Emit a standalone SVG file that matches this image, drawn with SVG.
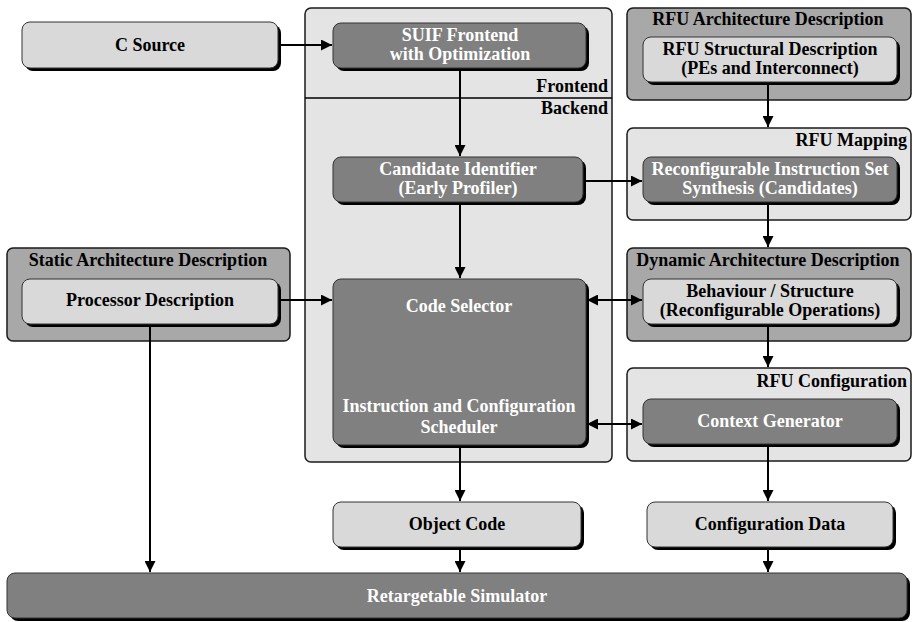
<svg xmlns="http://www.w3.org/2000/svg" width="913" height="622" viewBox="0 0 913 622">
  <defs>
    <style>
      text { font-family: "Liberation Serif", "DejaVu Serif", serif; font-weight: bold; font-size: 18px; text-anchor: middle; }
      .w { fill: #ffffff; }
      .k { fill: #000000; }
      .r { text-anchor: end; }
      .sh { fill: #000000; }
      .light { fill: #d9d9d9; stroke: #333333; stroke-width: 1; }
      .dark { fill: #808080; stroke: #333333; stroke-width: 1; }
      .pane { fill: #e4e4e4; stroke: #1a1a1a; stroke-width: 1.5; }
      .grp { fill: #a8a8a8; stroke: #1a1a1a; stroke-width: 1.5; }
      .edge { stroke: #000000; stroke-width: 2; fill: none; }
    </style>
    <marker id="ahb" viewBox="0 0 10 10" refX="10" refY="5" markerWidth="11" markerHeight="11" orient="auto-start-reverse" markerUnits="userSpaceOnUse">
      <path d="M0,0 L10,5 L0,10 z" fill="#000"/>
    </marker>
  </defs>

  <!-- containers -->
  <g id="frontend-backend">
    <rect class="pane" x="305" y="8" width="307" height="454" rx="6"/>
    <line x1="305" y1="98" x2="612" y2="98" stroke="#000" stroke-width="1.5"/>
    <text class="k r" x="608" y="92">Frontend</text>
    <text class="k r" x="608" y="114">Backend</text>
  </g>

  <g id="rfu-arch">
    <rect class="grp" x="627" y="8" width="284" height="92" rx="6"/>
    <text class="k" x="768" y="25">RFU Architecture Description</text>
  </g>
  <g id="rfu-mapping">
    <rect class="pane" x="627" y="128" width="284" height="92" rx="6"/>
    <text class="k r" x="907" y="146">RFU Mapping</text>
  </g>
  <g id="dyn-arch">
    <rect class="grp" x="627" y="248" width="284" height="93" rx="6"/>
    <text class="k" x="768" y="266">Dynamic Architecture Description</text>
  </g>
  <g id="rfu-config">
    <rect class="pane" x="627" y="368" width="284" height="93" rx="6"/>
    <text class="k r" x="907" y="387">RFU Configuration</text>
  </g>
  <g id="static-arch">
    <rect class="grp" x="7" y="248" width="283" height="93" rx="6"/>
    <text class="k" x="148" y="266">Static Architecture Description</text>
  </g>

  <!-- connectors -->
  <g id="connectors">
    <line class="edge" x1="278" y1="45" x2="332" y2="45" marker-end="url(#ahb)"/>
    <line class="edge" x1="460" y1="68" x2="460" y2="156" marker-end="url(#ahb)"/>
    <line class="edge" x1="460" y1="202" x2="460" y2="278" marker-end="url(#ahb)"/>
    <line class="edge" x1="583" y1="181" x2="642" y2="181" marker-end="url(#ahb)"/>
    <line class="edge" x1="768" y1="82" x2="768" y2="127" marker-end="url(#ahb)"/>
    <line class="edge" x1="768" y1="202" x2="768" y2="247" marker-end="url(#ahb)"/>
    <line class="edge" x1="768" y1="324" x2="768" y2="367" marker-end="url(#ahb)"/>
    <line class="edge" x1="278" y1="300" x2="332" y2="300" marker-end="url(#ahb)"/>
    <line class="edge" x1="587" y1="300" x2="642" y2="300" marker-start="url(#ahb)" marker-end="url(#ahb)"/>
    <line class="edge" x1="587" y1="424" x2="642" y2="424" marker-start="url(#ahb)" marker-end="url(#ahb)"/>
    <line class="edge" x1="460" y1="445" x2="460" y2="501" marker-end="url(#ahb)"/>
    <line class="edge" x1="768" y1="444" x2="768" y2="501" marker-end="url(#ahb)"/>
    <line class="edge" x1="150" y1="324" x2="150" y2="572" marker-end="url(#ahb)"/>
    <line class="edge" x1="460" y1="547" x2="460" y2="572" marker-end="url(#ahb)"/>
    <line class="edge" x1="768" y1="547" x2="768" y2="572" marker-end="url(#ahb)"/>
  </g>

  <!-- nodes -->
  <g id="c-source">
    <rect class="sh" x="25" y="25" width="256" height="46" rx="8"/>
    <rect class="light" x="22" y="22" width="256" height="46" rx="8"/>
    <text class="k" x="150" y="51">C Source</text>
  </g>
  <g id="suif">
    <rect class="sh" x="336" y="26" width="253" height="45" rx="8"/>
    <rect class="dark" x="333" y="23" width="253" height="45" rx="8"/>
    <text class="w" x="460" y="41">SUIF Frontend</text>
    <text class="w" x="460" y="60">with Optimization</text>
  </g>
  <g id="candidate-identifier">
    <rect class="sh" x="336" y="160" width="250" height="45" rx="8"/>
    <rect class="dark" x="333" y="157" width="250" height="45" rx="8"/>
    <text class="w" x="458" y="175">Candidate Identifier</text>
    <text class="w" x="458" y="194">(Early Profiler)</text>
  </g>
  <g id="code-selector">
    <rect class="sh" x="336" y="282" width="253" height="166" rx="8"/>
    <rect class="dark" x="333" y="279" width="253" height="166" rx="8"/>
    <text class="w" x="459" y="312">Code Selector</text>
    <text class="w" x="459" y="412">Instruction and Configuration</text>
    <text class="w" x="459" y="433">Scheduler</text>
  </g>
  <g id="object-code">
    <rect class="sh" x="336" y="505" width="248" height="45" rx="8"/>
    <rect class="light" x="333" y="502" width="248" height="45" rx="8"/>
    <text class="k" x="457" y="530">Object Code</text>
  </g>
  <g id="rfu-structural">
    <rect class="sh" x="646" y="40" width="254" height="45" rx="8"/>
    <rect class="light" x="643" y="37" width="254" height="45" rx="8"/>
    <text class="k" x="770" y="55">RFU Structural Description</text>
    <text class="k" x="770" y="74">(PEs and Interconnect)</text>
  </g>
  <g id="ris-synthesis">
    <rect class="sh" x="646" y="160" width="254" height="45" rx="8"/>
    <rect class="dark" x="643" y="157" width="254" height="45" rx="8"/>
    <text class="w" x="770" y="175">Reconfigurable Instruction Set</text>
    <text class="w" x="770" y="194">Synthesis (Candidates)</text>
  </g>
  <g id="behaviour">
    <rect class="sh" x="646" y="282" width="254" height="45" rx="8"/>
    <rect class="light" x="643" y="279" width="254" height="45" rx="8"/>
    <text class="k" x="770" y="297">Behaviour / Structure</text>
    <text class="k" x="770" y="316">(Reconfigurable Operations)</text>
  </g>
  <g id="context-generator">
    <rect class="sh" x="646" y="402" width="254" height="45" rx="8"/>
    <rect class="dark" x="643" y="399" width="254" height="45" rx="8"/>
    <text class="w" x="770" y="427">Context Generator</text>
  </g>
  <g id="config-data">
    <rect class="sh" x="650" y="505" width="246" height="45" rx="8"/>
    <rect class="light" x="647" y="502" width="246" height="45" rx="8"/>
    <text class="k" x="770" y="530">Configuration Data</text>
  </g>
  <g id="processor-description">
    <rect class="sh" x="25" y="282" width="256" height="45" rx="8"/>
    <rect class="light" x="22" y="279" width="256" height="45" rx="8"/>
    <text class="k" x="150" y="306">Processor Description</text>
  </g>
  <g id="simulator">
    <rect class="sh" x="10" y="576" width="900" height="45" rx="8"/>
    <rect class="dark" x="7" y="573" width="900" height="45" rx="8"/>
    <text class="w" x="457" y="602">Retargetable Simulator</text>
  </g>
</svg>
